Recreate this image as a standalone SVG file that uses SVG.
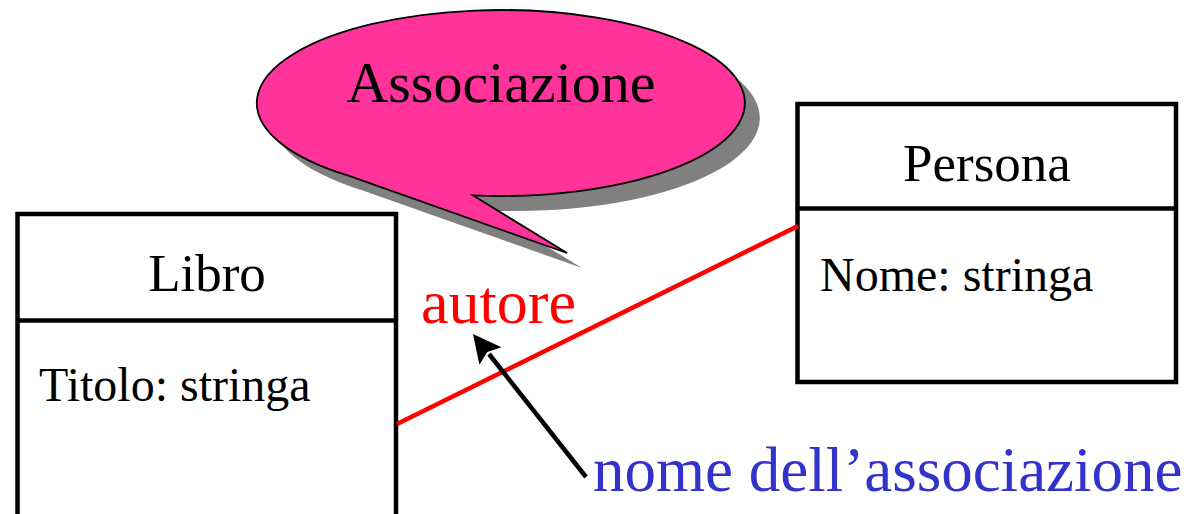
<svg xmlns="http://www.w3.org/2000/svg" width="1201" height="514" viewBox="0 0 1201 514">
<style>
text{font-family:"Liberation Serif","Times New Roman",serif;}
.box{fill:#fff;stroke:#000;stroke-width:4.5;}
.div{stroke:#000;stroke-width:4.5;}
.title{font-size:53px;fill:#000;text-anchor:middle;}
.attr{font-size:48px;fill:#000;}
</style>
<defs>
<path id="bubble" d="M 473 195.4 A 244 93 0 1 0 347 175.2 L 567 253 Z"/>
</defs>
<g id="callout">
<use href="#bubble" transform="translate(15,15)" fill="#808080"/>
<use href="#bubble" fill="#FF3399" stroke="#000" stroke-width="1.8" stroke-linejoin="miter"/>
<text x="501" y="102" font-size="58" text-anchor="middle" fill="#000">Associazione</text>
</g>
<g id="libro">
<rect class="box" x="17.5" y="214" width="378.5" height="340"/>
<line class="div" x1="17.5" y1="320.5" x2="396" y2="320.5"/>
<text class="title" x="207" y="291">Libro</text>
<text class="attr" x="39" y="401">Titolo: stringa</text>
</g>
<g id="persona">
<rect class="box" x="797.5" y="104" width="378.5" height="278"/>
<line class="div" x1="797.5" y1="208.5" x2="1176" y2="208.5"/>
<text class="title" x="987" y="181">Persona</text>
<text class="attr" x="820" y="291">Nome: stringa</text>
</g>
<g id="connectors">
<line x1="397" y1="424" x2="798" y2="226" stroke="#FF0000" stroke-width="4.5"/>
<line x1="586" y1="477" x2="489" y2="354" stroke="#000" stroke-width="4.5"/>
<polygon points="473,334 501.4,347.3 487.3,352.1 479.4,364.7" fill="#000"/>
</g>
<g id="labels">
<text x="421" y="323" font-size="62" fill="#FF0000">autore</text>
<text x="593" y="491" font-size="63" fill="#3333CC">nome dell’associazione</text>
</g>
</svg>
